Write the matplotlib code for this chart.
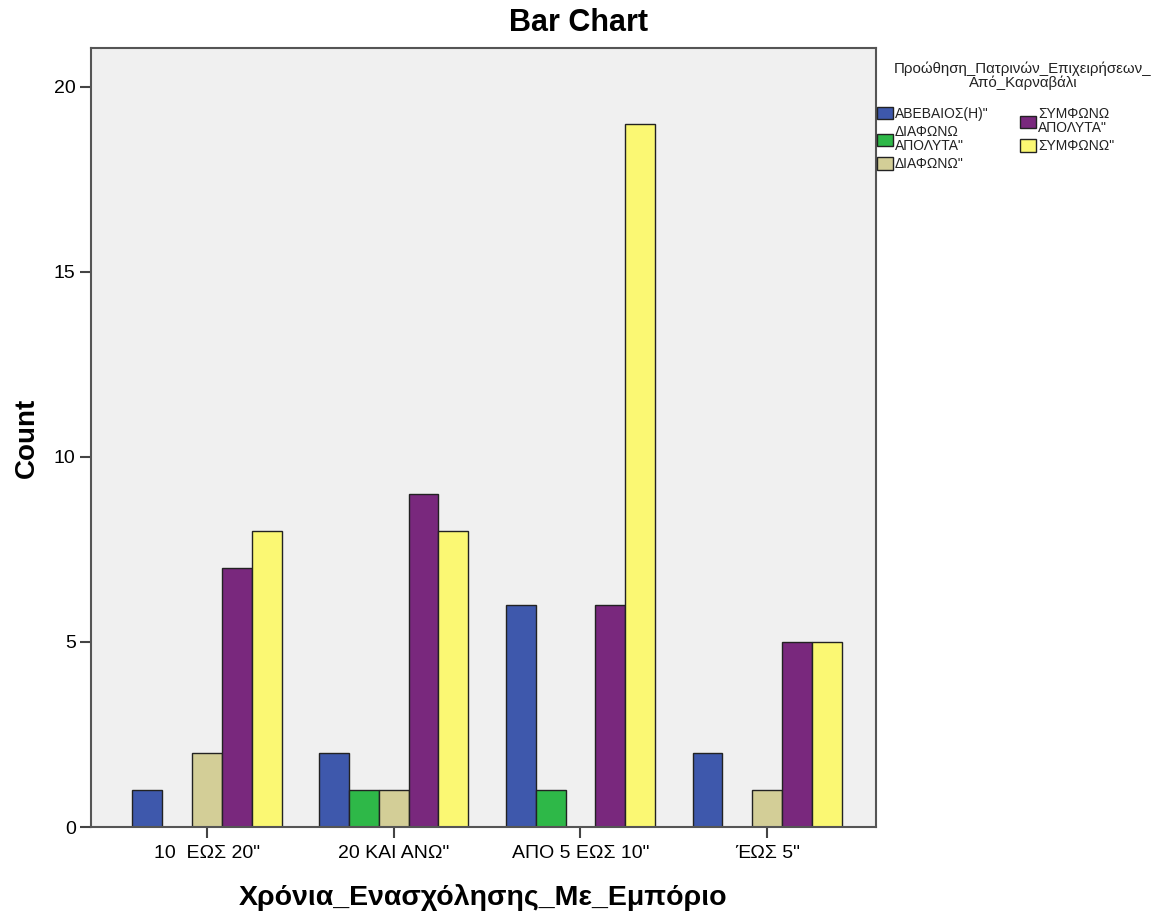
import matplotlib
matplotlib.use("Agg")
import matplotlib.pyplot as plt
import numpy as np

plt.rcParams['font.family'] = ['Liberation Sans', 'DejaVu Sans']

categories = ['10  ΕΩΣ 20"', '20 ΚΑΙ ΑΝΩ"', 'ΑΠΟ 5 ΕΩΣ 10"', 'ΈΩΣ 5"']
series_names = ['ΑΒΕΒΑΙΟΣ(Η)"', 'ΔΙΑΦΩΝΩ\nΑΠΟΛΥΤΑ"', 'ΔΙΑΦΩΝΩ"', 'ΣΥΜΦΩΝΩ\nΑΠΟΛΥΤΑ"', 'ΣΥΜΦΩΝΩ"']
abebaios = [1, 2, 6, 2]
diafono_apolyta = [0, 1, 1, 0]
diafono = [2, 1, 0, 1]
symfono_apolyta = [7, 9, 6, 5]
symfono = [8, 8, 19, 5]
series_values = [abebaios, diafono_apolyta, diafono, symfono_apolyta, symfono]
colors = ['#3E58AC', '#2EB848', '#D3CE97', '#79287D', '#FBF873']
legend_title = 'Προώθηση_Πατρινών_Επιχειρήσεων_\nΑπό_Καρναβάλι'

W, H = 1159, 917
fig = plt.figure(figsize=(W / 100, H / 100), dpi=100)
ax = fig.add_axes([0.0785, 0.0981, 0.677, 0.8496])
ax.set_facecolor('#F0F0F0')

x = np.arange(len(categories))
w = 0.16
handles = []
for i, (name, vals, c) in enumerate(zip(series_names, series_values, colors)):
    vals = np.array(vals, dtype=float)
    pos = x + (i - 2) * w
    mask = vals > 0
    b = ax.bar(pos[mask], vals[mask], width=w, color=c, edgecolor='#222222', linewidth=1.0, label=name)
    handles.append(b)

ax.set_xlim(-0.62, 3.58)
ax.set_ylim(0, 21.05)
ax.set_yticks([0, 5, 10, 15, 20])
ax.set_xticks(x)
ax.set_xticklabels(categories, fontsize=14)
ax.tick_params(axis='y', labelsize=14, length=8, width=1.5, color='#444444', pad=3)
ax.tick_params(axis='x', length=8, width=1.5, color='#444444', pad=5)
for s in ax.spines.values():
    s.set_color('#555555')
    s.set_linewidth(1.5)

ax.set_ylabel('Count', fontsize=20, fontweight='bold', labelpad=10)
ax.set_xlabel('Χρόνια_Ενασχόλησης_Με_Εμπόριο', fontsize=20.5, fontweight='bold', labelpad=16)
fig.text(0.499, 0.975, 'Bar Chart', ha='center', va='center', fontsize=22, fontweight='bold')

# legend title
fig.text(1023 / W, 1 - 76 / H, legend_title, ha='center', va='center',
         multialignment='center', fontsize=10.8, linespacing=0.95, color='#222222')

common = dict(fontsize=10, frameon=False, borderpad=0.0, borderaxespad=0.0,
              handlelength=1.15, handleheight=1.0, handletextpad=0.15,
              labelspacing=0.3, loc='upper left')
leg1 = fig.legend(handles=handles[:3], labels=series_names[:3],
                  bbox_to_anchor=(877 / W, 1 - 107 / H), **common)
leg2 = fig.legend(handles=handles[3:], labels=series_names[3:],
                  bbox_to_anchor=(1020 / W, 1 - 107 / H), **common)
for leg in (leg1, leg2):
    for t in leg.get_texts():
        t.set_linespacing(1.0)
        t.set_color('#222222')

fig.savefig('out.png', dpi=100)
